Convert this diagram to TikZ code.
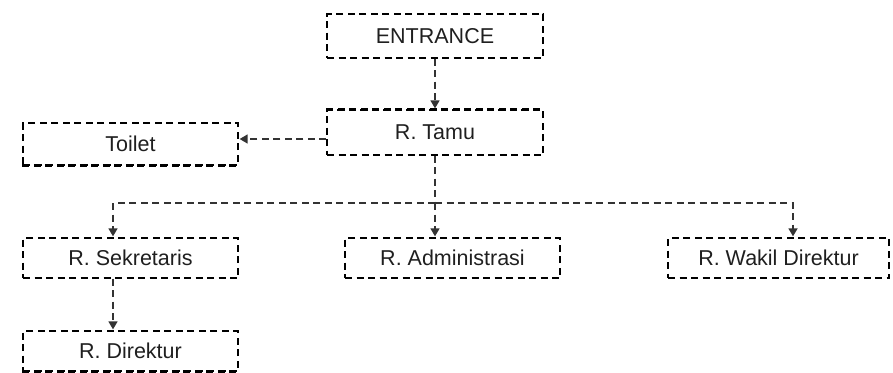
\documentclass[tikz,border=0pt]{standalone}
\usepackage{fontspec}
\setmainfont{Liberation Sans}
\usetikzlibrary{arrows.meta}
\begin{document}
\begin{tikzpicture}[x=1pt,y=-1pt,
  room/.style={draw=black, line width=1.3pt, dash pattern=on 7pt off 4.5pt,
    minimum height=40pt, inner sep=0pt, text=black!88,
    font=\fontsize{21.5}{25}\selectfont},
  thickside/.style={draw=black, line width=2.8pt, dash pattern=on 7pt off 4.5pt},
  conn/.style={draw=black!80, line width=1.6pt, dash pattern=on 7pt off 4.5pt},
  arr/.style={-{Triangle[length=8pt,width=9pt]}, shorten >=1pt}]
\useasboundingbox (0,0) rectangle (893,372);
\node[room, minimum width=216pt, minimum height=44pt] (ent) at (435,36) {ENTRANCE};
\node[room, minimum width=216pt, minimum height=45pt] (tamu) at (435,132.5) {R. Tamu};
\node[room, minimum width=215pt, minimum height=42pt] (toilet) at (130.5,144) {Toilet};
\node[room, minimum width=215pt] (sek) at (130.5,258) {R. Sekretaris};
\node[room, minimum width=215pt] (dir) at (130.5,351) {R. Direktur};
\node[room, minimum width=215pt] (adm) at (452.5,258) {R. Administrasi};
\node[room, minimum width=221pt] (wak) at (778.5,258) {R. Wakil Direktur};
\draw[thickside] (tamu.north west) -- (tamu.north east);
\draw[thickside] (toilet.south west) -- (toilet.south east);
\draw[thickside] (dir.south west) -- (dir.south east);
\draw[conn, arr] (ent.south) -- (tamu.north);
\draw[conn, arr] ([yshift=-6.5pt]tamu.west) -- ([yshift=5pt]toilet.east);
\coordinate (jn) at (435,203);
\draw[conn] (tamu.south) -- (jn);
\draw[conn, arr] (jn) -| ([xshift=-17.5pt]sek.north);
\draw[conn, arr] (jn) -- (adm.north -| jn);
\draw[conn, arr] (jn) -| ([xshift=14.5pt]wak.north);
\draw[conn, arr] ([xshift=-17.5pt]sek.south) -- ([xshift=-17.5pt]dir.north);
\end{tikzpicture}
\end{document}
